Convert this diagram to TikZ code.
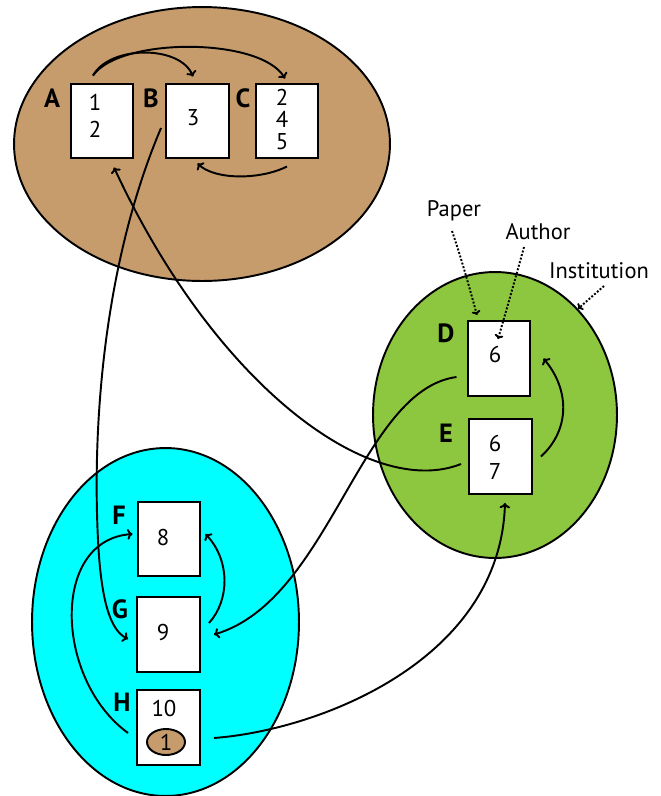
\documentclass[tikz,border=0pt]{standalone}
\usepackage{fontspec}
\setmainfont{PT Sans}
\usetikzlibrary{shapes.geometric,arrows.meta}
\definecolor{brownfill}{HTML}{C69C6D}
\definecolor{greenfill}{HTML}{8DC63F}
\definecolor{cyanfill}{HTML}{00FFFF}
\tikzset{
  inst/.style={draw, ellipse, line width=1.1pt, inner sep=0pt},
  paperbox/.style={draw, fill=white, rectangle, line width=1.4pt, minimum width=1.25cm, minimum height=1.49cm, inner sep=0pt},
  lbl/.style={font=\fontsize{15}{18}\selectfont\bfseries, inner sep=0pt},
  num/.style={font=\fontsize{13}{16}\selectfont, inner sep=0pt},
  captext/.style={font=\fontsize{12.8}{15}\selectfont, inner sep=0pt},
  link/.style={line width=1.1pt, -{To[length=3pt,width=6pt]}},
  hint/.style={line width=1.1pt, densely dotted, -{To[length=2.5pt,width=5pt]}}
}
\begin{document}
\begin{tikzpicture}[x=0.02cm, y=-0.02cm]
\useasboundingbox (0,0) rectangle (661,796);
% institutions
\node[inst, fill=brownfill, minimum width=7.52cm, minimum height=5.48cm] (inst1) at (202,144) {};
\node[inst, fill=greenfill, minimum width=4.88cm, minimum height=5.72cm] (inst2) at (495,415) {};
\node[inst, fill=cyanfill, minimum width=5.34cm, minimum height=6.96cm] (inst3) at (165.5,622) {};
% papers
\node[paperbox] (A) at (102,121) {};
\node[paperbox] (B) at (197.5,121) {};
\node[paperbox] (C) at (287,121) {};
\node[paperbox] (D) at (499,358.5) {};
\node[paperbox] (E) at (500.5,456.5) {};
\node[paperbox] (F) at (169,539) {};
\node[paperbox] (G) at (168.5,634.5) {};
\node[paperbox] (H) at (168.5,727.5) {};
% labels
\node[lbl] (lA) at (52,98) {A};
\node[lbl] (lB) at (151,98) {B};
\node[lbl] (lC) at (243,98) {C};
\node[lbl] (lD) at (446,333) {D};
\node[lbl] (lE) at (446,433) {E};
\node[lbl] (lF) at (119,515) {F};
\node[lbl] (lG) at (120,609) {G};
\node[lbl] (lH) at (122,702) {H};
% authors
\node[num] (a1) at (95,102) {1};
\node[num] (a2) at (95,129) {2};
\node[num] (b3) at (193,118) {3};
\node[num] (c2) at (282,97) {2};
\node[num] (c4) at (282,119) {4};
\node[num] (c5) at (282,141.5) {5};
\node[num] (d6) at (495,354) {6};
\node[num] (e6) at (495,443) {6};
\node[num] (e7) at (495,471) {7};
\node[num] (f8) at (163,537) {8};
\node[num] (g9) at (163,632) {9};
\node[num] (h10) at (164,708) {10};
\node[draw, ellipse, fill=brownfill, line width=1.1pt, minimum width=0.76cm, minimum height=0.52cm, inner sep=0pt, font=\fontsize{13}{15}\selectfont] (h1) at (166,742) {1};
% captions
\node[captext] (paper) at (454,211) {Paper};
\node[captext] (author) at (538,232) {Author};
\node[captext] (institution) at (599,271) {Institution};
\draw[hint] ([shift={(-2,20)}]paper.center) .. controls (462,260) and (470,290) .. ([shift={(-22,-5)}]D.north);
\draw[hint] ([shift={(-14,15)}]author.center) .. controls (515,280) and (505,315) .. ([shift={(-1,-19.5)}]D.center);
\draw[hint] ([shift={(5,15)}]institution.center) -- (inst2.52);
% citations
\draw[link] ([shift={(-9,-7)}]A.north) .. controls (110,45) and (180,45) .. ([shift={(-4.5,-6)}]B.north);
\draw[link] ([shift={(-9,-7)}]A.north) .. controls (120,37) and (260,37) .. ([shift={(-2,-4)}]C.north);
\draw[link] ([shift={(0,7)}]C.south) .. controls (260,180) and (215,180) .. ([shift={(0,4)}]B.south);
\draw[link] ([shift={(-4,7)}]B.west) .. controls (105,260) and (92,420) .. (98,540) .. controls (101,600) and (110,630) .. ([shift={(-8,4.5)}]G.west);
\draw[link] ([shift={(-7,7.5)}]E.west) .. controls (370,500) and (215,385) .. ([shift={(12,8)}]A.south);
\draw[link] ([shift={(-10,18.5)}]D.west) .. controls (360,390) and (330,600) .. ([shift={(13,0)}]G.east);
\draw[link] ([shift={(8,0)}]E.east) .. controls (570,430) and (570,390) .. ([shift={(12,0)}]D.east);
\draw[link] ([shift={(13,10.5)}]H.east) .. controls (320,730) and (500,660) .. ([shift={(4.5,8)}]E.south);
\draw[link] ([shift={(8,-11.5)}]G.east) .. controls (230,600) and (230,560) .. ([shift={(4,-5)}]F.east);
\draw[link] ([shift={(-8,5.5)}]H.west) .. controls (55,680) and (50,540) .. ([shift={(-4,-5)}]F.west);
\end{tikzpicture}
\end{document}
